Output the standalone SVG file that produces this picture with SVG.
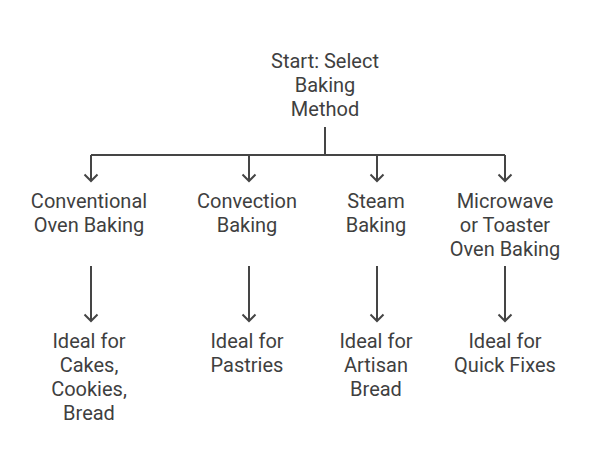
<svg xmlns="http://www.w3.org/2000/svg" width="590" height="474" viewBox="0 0 590 474">
<style>
text{font-family:Roboto,"Liberation Sans",sans-serif;font-size:20px;fill:#3f3f3f;text-anchor:middle}
.c{fill:none;stroke:#454545;stroke-width:2}
</style>
<defs>
<marker id="ah" viewBox="0 0 20 20" refX="10" refY="10" markerWidth="20" markerHeight="20" markerUnits="userSpaceOnUse" orient="auto">
<path d="M3.5 3.5 L10 10 L3.5 16.5" fill="none" stroke="#454545" stroke-width="2"/>
</marker>
</defs>
<rect width="590" height="474" fill="#fff"/>
<g id="connectors">
<path class="c" d="M325 127V155"/>
<path class="c" d="M91 155H505"/>
<path class="c" d="M91 155V181" marker-end="url(#ah)"/>
<path class="c" d="M249 155V181" marker-end="url(#ah)"/>
<path class="c" d="M377 155V181" marker-end="url(#ah)"/>
<path class="c" d="M505 155V181" marker-end="url(#ah)"/>
<path class="c" d="M91 266V321" marker-end="url(#ah)"/>
<path class="c" d="M249 266V321" marker-end="url(#ah)"/>
<path class="c" d="M377 266V321" marker-end="url(#ah)"/>
<path class="c" d="M505 266V321" marker-end="url(#ah)"/>
</g>
<g id="start"><text x="325" y="68">Start: Select</text><text x="325" y="92">Baking</text><text x="325" y="116">Method</text></g>
<g id="conventional"><text x="89" y="208">Conventional</text><text x="89" y="232">Oven Baking</text></g>
<g id="convection"><text x="247" y="208">Convection</text><text x="247" y="232">Baking</text></g>
<g id="steam"><text x="376" y="208">Steam</text><text x="376" y="232">Baking</text></g>
<g id="microwave"><text x="505" y="208">Microwave</text><text x="505" y="232">or Toaster</text><text x="505" y="256">Oven Baking</text></g>
<g id="ideal-cakes"><text x="89" y="348">Ideal for</text><text x="89" y="372">Cakes,</text><text x="89" y="396">Cookies,</text><text x="89" y="420">Bread</text></g>
<g id="ideal-pastries"><text x="247" y="348">Ideal for</text><text x="247" y="372">Pastries</text></g>
<g id="ideal-artisan"><text x="376" y="348">Ideal for</text><text x="376" y="372">Artisan</text><text x="376" y="396">Bread</text></g>
<g id="ideal-quick"><text x="505" y="348">Ideal for</text><text x="505" y="372">Quick Fixes</text></g>
</svg>
